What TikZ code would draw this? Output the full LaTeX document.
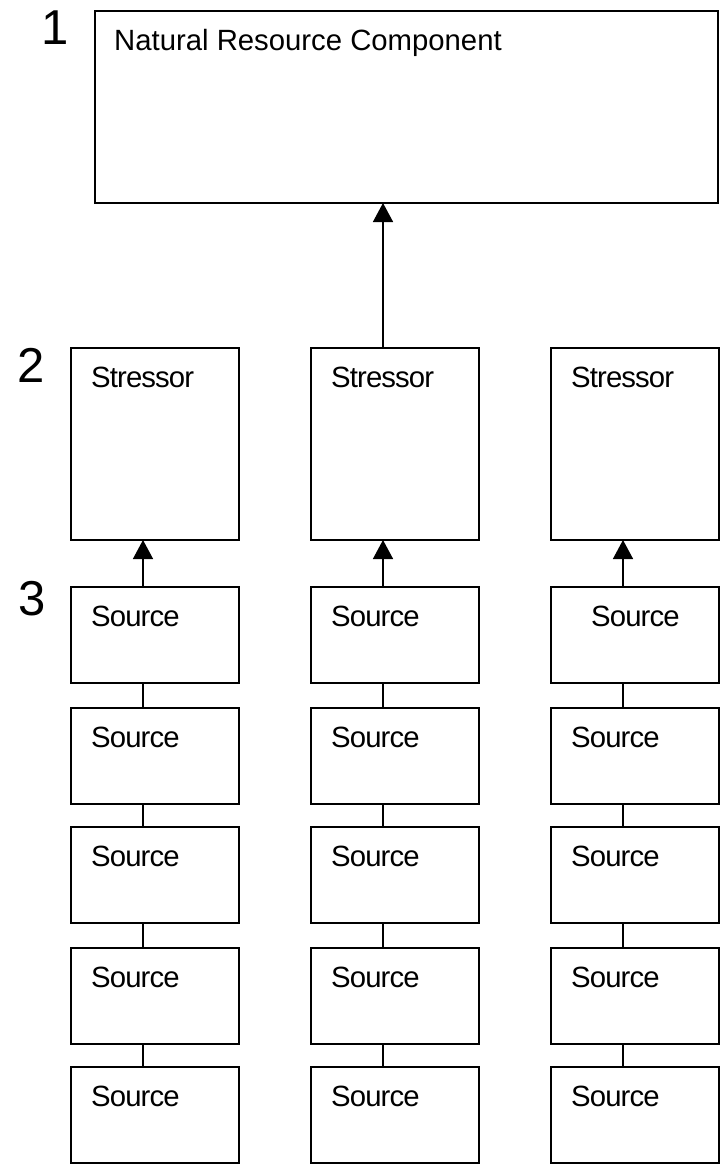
\documentclass[tikz,border=0pt]{standalone}
\usepackage{fontspec}
\setmainfont{Liberation Sans}
\newfontfamily\tightfont[LetterSpace=-3]{Liberation Sans}
\usetikzlibrary{arrows.meta,calc}
\begin{document}
\begin{tikzpicture}[x=1pt,y=-1pt,
  box/.style={draw, line width=1.8pt, rectangle, inner sep=0pt, outer sep=0pt, minimum width=168pt},
  txt/.style={anchor=base west, inner sep=0pt, font=\tightfont\fontsize{29.3}{35}\selectfont},
  ttl/.style={anchor=base west, inner sep=0pt, font=\fontsize{29.3}{35}\selectfont},
  lvl/.style={anchor=base west, inner sep=0pt, font=\fontsize{49}{56}\selectfont},
  conn/.style={line width=1.5pt},
  arr/.style={line width=1.5pt, -{Triangle[width=20pt,length=19pt]}}]
\useasboundingbox (0,0) rectangle (721,1164);

% level numbers
\node[lvl] (n1) at (41,45) {1};
\node[lvl] (n2) at (17,382) {2};
\node[lvl] (n3) at (18,615) {3};

% level 1: resource component
\node[box, minimum width=623pt, minimum height=192pt] (top) at (406.5,107) {};
\node[ttl] (top-t) at ([shift={(19pt,-40pt)}]top.north west) {Natural Resource Component};

% levels 2 and 3: stressors and their sources
\foreach \c/\x in {1/155,2/395,3/635} {
  \node[box, minimum height=192pt] (st\c) at (\x,444) {};
  \node[txt] (st\c-t) at ([shift={(20pt,-39pt)}]st\c.north west) {Stressor};
  \foreach \r/\y in {1/635,2/756,3/875,4/996,5/1115} {
    \pgfmathsetmacro\dx{(\c==3 && \r==1) ? 40 : 20}
    \node[box, minimum height=96pt] (s\c\r) at (\x,\y) {};
    \node[txt] (s\c\r-t) at ([shift={(\dx pt,-39pt)}]s\c\r.north west) {Source};
  }
}

% connectors
\foreach \c in {1,2,3} {
  \draw[arr] ([xshift=72pt]s\c1.north west) -- ([xshift=72pt]st\c.south west);
  \foreach \r/\n in {1/2,2/3,3/4,4/5}
    \draw[conn] ([xshift=72pt]s\c\r.south west) -- ([xshift=72pt]s\c\n.north west);
}
\draw[arr] ([xshift=72pt]st2.north west) coordinate (up) -- (up |- top.south);
\end{tikzpicture}
\end{document}
